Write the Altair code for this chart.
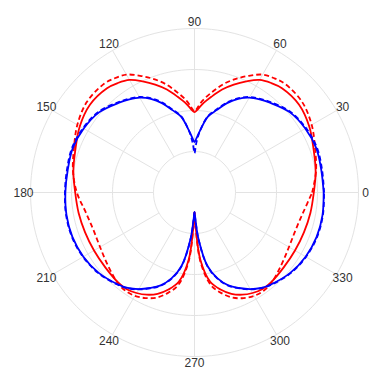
import altair as alt
import pandas as pd

# angle (degrees) at which each curve value was read
ANGLES = [0, 10, 20, 30, 40, 50, 55, 60, 65, 70, 75, 80, 85, 88, 90,
          92, 95, 100, 105, 110, 115, 120, 125, 130, 140, 150, 160, 170, 180,
          190, 200, 210, 220, 230, 235, 240, 245, 250, 255, 260, 265, 268, 270,
          272, 275, 280, 285, 290, 295, 300, 305, 310, 320, 330, 340, 350, 360]

RED_SOLID = [29.1, 30.0, 30.9, 32.3, 33.3, 33.2, 32.6, 31.7, 29.9, 28.0, 26.0, 23.7, 21.6, 20.2, 19.6,
             20.2, 21.6, 23.7, 26.0, 28.0, 29.9, 31.7, 32.6, 33.2, 33.3, 32.3, 30.9, 30.0, 29.1,
             28.7, 28.4, 28.3, 28.4, 28.8, 28.8, 28.3, 27.5, 26.3, 24.5, 22.1, 16.5, 8.6, 4.8,
             8.6, 16.5, 22.1, 24.5, 26.3, 27.5, 28.3, 28.8, 28.8, 28.4, 28.3, 28.4, 28.7, 29.1]

RED_DASHED = [28.7, 30.1, 31.3, 33.0, 34.3, 34.5, 34.0, 33.2, 31.4, 29.5, 27.4, 24.9, 22.5, 20.7, 19.8,
              20.7, 22.5, 24.9, 27.4, 29.5, 31.4, 33.2, 34.0, 34.5, 34.3, 33.0, 31.3, 30.1, 28.7,
              27.0, 26.3, 26.6, 27.6, 29.0, 29.3, 29.1, 28.4, 27.3, 25.4, 22.9, 17.1, 8.8, 4.8,
              8.8, 17.1, 22.9, 25.4, 27.3, 28.4, 29.1, 29.3, 29.0, 27.6, 26.6, 26.3, 27.0, 28.7]

BLUE_SOLID = [31.5, 31.4, 31.6, 31.2, 30.4, 28.6, 27.7, 26.7, 25.2, 23.2, 20.8, 18.8, 15.1, 13.2, 12.3,
              13.2, 15.1, 18.8, 20.8, 23.2, 25.2, 26.7, 27.7, 28.6, 30.4, 31.2, 31.6, 31.4, 31.5,
              31.7, 31.7, 31.3, 30.5, 29.2, 28.4, 27.2, 25.7, 24.1, 21.7, 18.2, 11.5, 6.7, 4.8,
              6.7, 11.5, 18.2, 21.7, 24.1, 25.7, 27.2, 28.4, 29.2, 30.5, 31.3, 31.7, 31.7, 31.5]

BLUE_DASHED = [31.6, 31.6, 31.8, 31.4, 30.6, 28.8, 27.9, 26.9, 25.4, 23.4, 21.0, 18.9, 15.0, 12.0, 9.6,
               12.0, 15.0, 18.9, 21.0, 23.4, 25.4, 26.9, 27.9, 28.8, 30.6, 31.4, 31.8, 31.6, 31.6,
               31.8, 31.8, 31.4, 30.6, 29.3, 28.5, 27.3, 25.8, 24.2, 21.8, 18.3, 11.6, 6.8, 4.8,
               6.8, 11.6, 18.3, 21.8, 24.2, 25.8, 27.3, 28.5, 29.3, 30.6, 31.4, 31.8, 31.8, 31.6]

RINGS = [10, 20, 30, 40]
SPOKE_ANGLES = [0, 30, 60, 90, 120, 150, 180, 210, 240, 270, 300, 330]
TICK_LABELS = ["0", "30", "60", "90", "120", "150", "180", "210", "240", "270", "300", "330"]
LABEL_RADIUS = 41.7
SPOKE_INNER = 10
SPOKE_OUTER = 40

rows = []
for name, vals in [("red_solid", RED_SOLID), ("red_dashed", RED_DASHED),
                   ("blue_solid", BLUE_SOLID), ("blue_dashed", BLUE_DASHED)]:
    for i, (a, r) in enumerate(zip(ANGLES, vals)):
        rows.append({"series": name, "order": i, "angle": a, "r": r})
curves = pd.DataFrame(rows)

ring_rows = []
for rv in RINGS:
    for t in range(0, 362, 2):
        ring_rows.append({"ring": rv, "angle": t, "r": rv})
rings = pd.DataFrame(ring_rows)

spokes = pd.DataFrame({"angle": SPOKE_ANGLES, "r1": [SPOKE_INNER] * 12, "r2": [SPOKE_OUTER] * 12})
labels = pd.DataFrame({"angle": SPOKE_ANGLES, "label": TICK_LABELS, "r": [LABEL_RADIUS] * 12})

XS = alt.Scale(domain=[-45.49, 42.56], nice=False, zero=False)
YS = alt.Scale(domain=[-43.29, 45.0], nice=False, zero=False)

def xy(chart, rfield="r"):
    return chart.transform_calculate(
        x=f"datum.{rfield} * cos(datum.angle * PI / 180)",
        y=f"datum.{rfield} * sin(datum.angle * PI / 180)",
    )

GRID = "#e3e3e3"

ring_layer = xy(alt.Chart(rings)).mark_line(stroke=GRID, strokeWidth=1).encode(
    x=alt.X("x:Q", scale=XS, axis=None),
    y=alt.Y("y:Q", scale=YS, axis=None),
    detail="ring:N",
    order="angle:Q",
)

spoke_layer = alt.Chart(spokes).transform_calculate(
    x1="datum.r1 * cos(datum.angle * PI / 180)",
    y1="datum.r1 * sin(datum.angle * PI / 180)",
    x2="datum.r2 * cos(datum.angle * PI / 180)",
    y2="datum.r2 * sin(datum.angle * PI / 180)",
).mark_rule(stroke=GRID, strokeWidth=1).encode(
    x=alt.X("x1:Q", scale=XS, axis=None),
    y=alt.Y("y1:Q", scale=YS, axis=None),
    x2="x2:Q",
    y2="y2:Q",
)

label_layer = xy(alt.Chart(labels)).mark_text(
    font="Liberation Sans", fontSize=12, color="#333333", align="center", baseline="middle"
).encode(
    x=alt.X("x:Q", scale=XS, axis=None),
    y=alt.Y("y:Q", scale=YS, axis=None),
    text="label:N",
)

def curve(name, color, dash=None):
    kw = dict(stroke=color, strokeWidth=1.8, interpolate="catmull-rom")
    if dash:
        kw["strokeDash"] = dash
    return xy(alt.Chart(curves).transform_filter(alt.datum.series == name)).mark_line(**kw).encode(
        x=alt.X("x:Q", scale=XS, axis=None),
        y=alt.Y("y:Q", scale=YS, axis=None),
        order="order:Q",
    )

chart = alt.layer(
    ring_layer,
    spoke_layer,
    label_layer,
    curve("red_solid", "#ff0000"),
    curve("red_dashed", "#ff0000", [5, 3]),
    curve("blue_solid", "#0000ff"),
    curve("blue_dashed", "#0000ff", [5, 3]),
).properties(
    width=361, height=362, padding=0, autosize="none"
).configure_view(stroke=None)

chart.save("out.html", embed_options={"renderer": "svg", "actions": False})
